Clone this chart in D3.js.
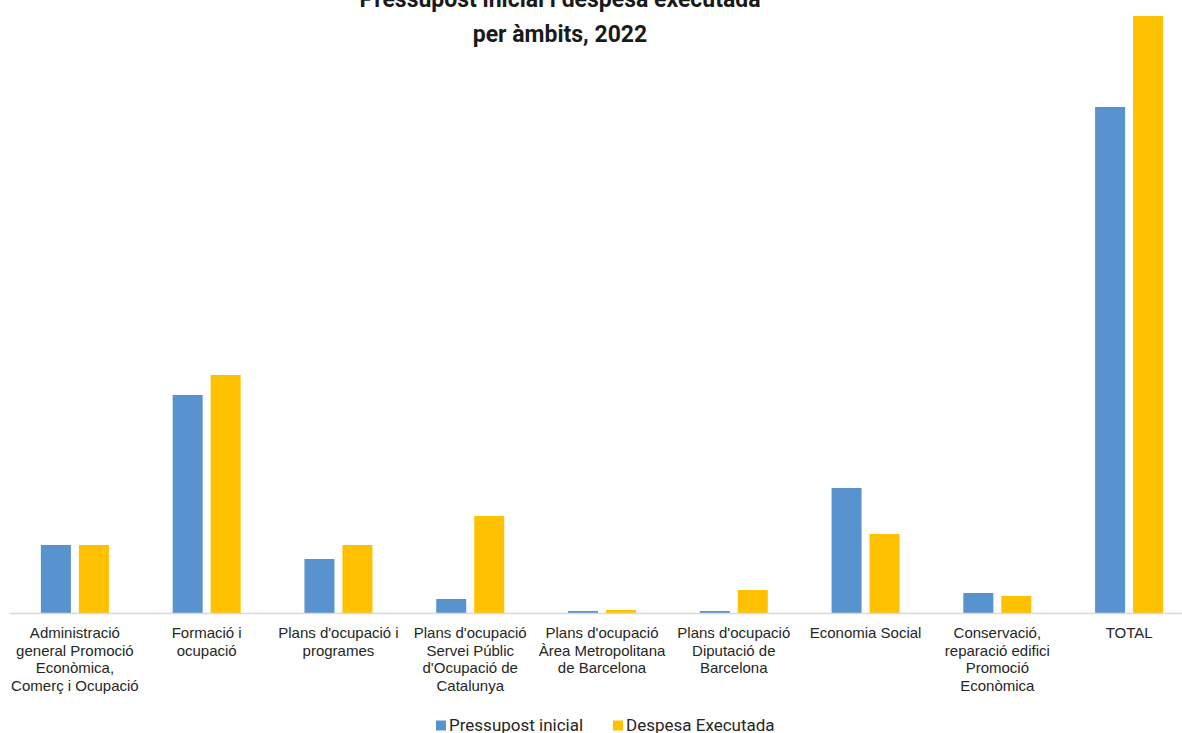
<!DOCTYPE html>
<html>
<head>
<meta charset="utf-8">
<script src="https://cdn.jsdelivr.net/npm/d3@7"></script>
<style>
  html, body { margin: 0; padding: 0; background: #ffffff; }
  svg { display: block; font-family: Roboto, "Noto Sans", sans-serif; }
</style>
</head>
<body>
<svg id="chart" width="1182" height="733"></svg>
<script>
// ---- data (no y axis shown, values in relative units) ----
const categories = [
  "Administració\ngeneral Promoció\nEconòmica,\nComerç i Ocupació",
  "Formació i\nocupació",
  "Plans d'ocupació i\nprogrames",
  "Plans d'ocupació\nServei Públic\nd'Ocupació de\nCatalunya",
  "Plans d'ocupació\nÀrea Metropolitana\nde Barcelona",
  "Plans d'ocupació\nDiputació de\nBarcelona",
  "Economia Social",
  "Conservació,\nreparació edifici\nPromoció\nEconòmica",
  "TOTAL"
];
const seriesNames = ["Pressupost inicial", "Despesa Executada"];
const pressupostInicial = [68, 218, 54, 14, 2, 2, 125, 20, 506];
const despesaExecutada  = [68, 238, 68, 97, 3, 23, 79, 17, 597];
const titleLines = ["Pressupost inicial i despesa executada", "per àmbits, 2022"];

const seriesColors = ["#5893D0", "#FFC000"];

const svg = d3.select("#chart");
const W = 1182, H = 733;
const baseY = 613;

const x = d3.scaleBand().domain(categories).range([9, 1195]).paddingInner(0).paddingOuter(0);
const xSub = d3.scaleBand().domain(seriesNames).range([-34, 34]).paddingInner(0.21).paddingOuter(0);
const y = d3.scaleLinear().domain([0, 597]).range([baseY, 16]);

// title
const title = svg.append("text")
  .attr("x", 560).attr("y", 7)
  .attr("text-anchor", "middle")
  .attr("font-size", 23).attr("font-weight", "bold").attr("fill", "#1a1a1a");
titleLines.forEach((t, i) => {
  title.append("tspan").attr("x", 560).attr("y", 7 + i * 35).text(t);
});

// bars
const data = [pressupostInicial, despesaExecutada];
data.forEach((vals, si) => {
  svg.append("g").selectAll("rect")
    .data(categories.map((c, i) => ({ c, v: vals[i] })))
    .join("rect")
    .attr("x", d => x(d.c) + x.bandwidth() / 2 + xSub(seriesNames[si]))
    .attr("width", xSub.bandwidth())
    .attr("y", d => y(d.v))
    .attr("height", d => y(0) - y(d.v))
    .attr("fill", seriesColors[si]);
});

// category axis
const xAxis = d3.axisBottom(x).tickSize(0).tickPadding(0);
const gx = svg.append("g").attr("transform", `translate(0,${baseY})`).call(xAxis);
gx.select(".domain").attr("stroke", "#d9d9d9").attr("stroke-width", 1.5);
gx.selectAll(".tick text").remove();
gx.selectAll(".tick").each(function(d) {
  const t = d3.select(this).append("text")
    .attr("text-anchor", "middle")
    .attr("font-size", 15)
    .attr("fill", "#262626");
  d.split("\n").forEach((line, i) => {
    t.append("tspan").attr("x", 0).attr("y", 25 + i * 17.7).text(line);
  });
});

// legend
const legendItems = [
  { name: seriesNames[0], color: seriesColors[0], x: 436 },
  { name: seriesNames[1], color: seriesColors[1], x: 613 }
];
const lg = svg.append("g");
legendItems.forEach(it => {
  lg.append("rect").attr("x", it.x).attr("y", 720.5).attr("width", 10).attr("height", 10).attr("fill", it.color);
  lg.append("text").attr("x", it.x + 13).attr("y", 731).attr("font-size", 17).attr("fill", "#262626").text(it.name);
});
</script>
</body>
</html>
